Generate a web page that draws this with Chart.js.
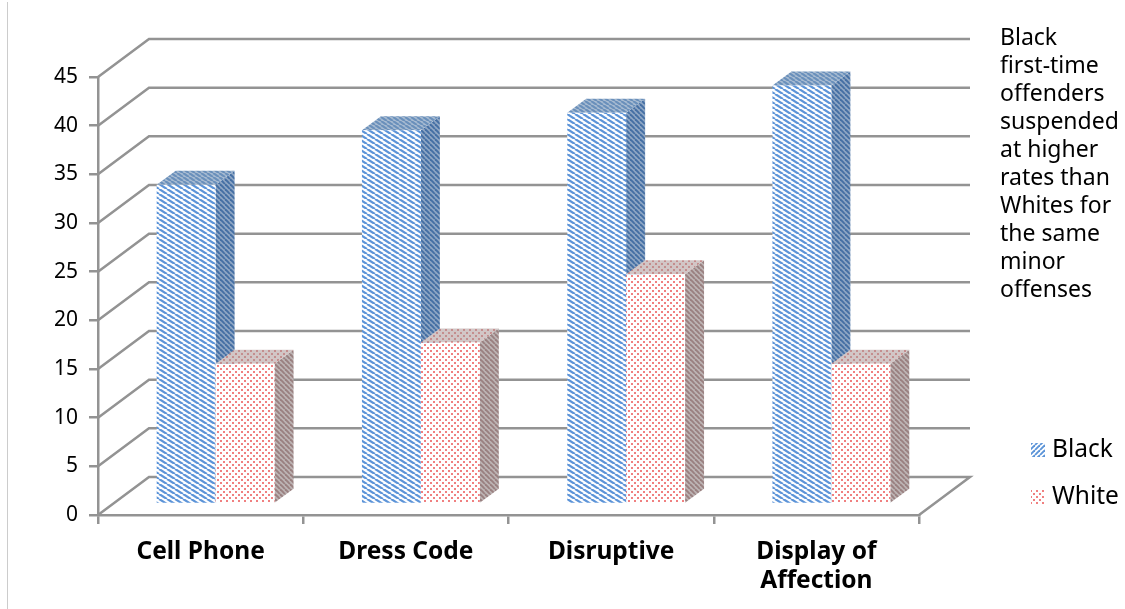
<!DOCTYPE html>
<html>
<head>
<meta charset="utf-8">
<title>First-time offenders suspended</title>
<style>
  html, body { margin: 0; padding: 0; background: #fff; overflow: hidden; }
  canvas { display: block; }
</style>
<script src="https://cdn.jsdelivr.net/npm/chart.js"></script>
</head>
<body>
<canvas id="suspensionChart" width="1125" height="609"></canvas>
<script>
const categories = ['Cell Phone', 'Dress Code', 'Disruptive', ['Display of', 'Affection']];
const blackValues = [32.8, 38.4, 40.2, 43];
const whiteValues = [14.4, 16.6, 23.6, 14.4];
const seriesNames = ['Black', 'White'];
const noteLines = ['Black', 'first-time', 'offenders', 'suspended', 'at higher', 'rates than', 'Whites for', 'the same', 'minor', 'offenses'];

const FONT = '"Noto Sans", sans-serif';
const GRID = '#939393';

// small tiled fills, the original uses Office pattern fills
function makeTile(w, h, paint) {
  const c = document.createElement('canvas');
  c.width = w;
  c.height = h;
  paint(c.getContext('2d'), w, h);
  return c.getContext('2d').createPattern(c, 'repeat');
}

function stripes(bg, fg, width, rising, w = 8, h = 5) {
  return makeTile(w, h, (g) => {
    g.fillStyle = bg;
    g.fillRect(0, 0, w, h);
    g.strokeStyle = fg;
    g.lineWidth = width;
    for (let i = -w; i <= w; i += w) {
      g.beginPath();
      if (rising) {
        g.moveTo(i, h);
        g.lineTo(i + w, 0);
      } else {
        g.moveTo(i, 0);
        g.lineTo(i + w, h);
      }
      g.stroke();
    }
  });
}

function dots(bg, fg) {
  return makeTile(6, 6, (g) => {
    g.fillStyle = bg;
    g.fillRect(0, 0, 6, 6);
    g.fillStyle = fg;
    g.fillRect(1, 1, 2, 2);
    g.fillRect(4, 4, 2, 2);
  });
}

const fills = [
  {
    front: stripes('#ffffff', '#5c94d8', 2.3, false),
    side: stripes('#8ea6c4', '#446fa4', 1.9, false, 5, 5),
    top: stripes('#a9bcd2', '#6a90bb', 2.2, false, 6, 4),
    key: stripes('#ffffff', '#5c94d8', 1.9, true, 5, 5)
  },
  {
    front: dots('#ffffff', '#f08080'),
    side: stripes('#bdb4b4', '#9a8080', 1.9, false, 5, 5),
    top: dots('#d2c6c6', '#c48e8e'),
    key: dots('#ffffff', '#f08080')
  }
];

// depth of the floor and of the bars, in px
const wallDx = 51, wallDy = 38;
const barDx = 19, barDy = 14;
const shiftX = 15, shiftY = 11;

const wallPlugin = {
  id: 'walls',
  // returning false skips the stock dataset pass: it paints the left bar last,
  // here the right bar has to sit over the left bar's side face
  beforeDatasetsDraw(chart) {
    const { ctx, scales: { x, y } } = chart;
    ctx.save();
    ctx.strokeStyle = GRID;
    ctx.lineWidth = 2.5;
    y.ticks.forEach((t) => {
      const py = y.getPixelForValue(t.value);
      ctx.beginPath();
      ctx.moveTo(x.left, py);
      ctx.lineTo(x.left + wallDx, py - wallDy);
      ctx.lineTo(x.right + wallDx, py - wallDy);
      if (t.value === 0) ctx.lineTo(x.right, py);
      ctx.stroke();
    });
    ctx.translate(shiftX, -shiftY);
    chart.data.datasets.forEach((ds, i) => {
      const fill = fills[i];
      chart.getDatasetMeta(i).data.forEach((bar) => {
        const { x: bx, y: by, base, width } = bar.getProps(['x', 'y', 'base', 'width'], true);
        const l = bx - width / 2, r = bx + width / 2;
        ctx.fillStyle = fill.side;
        ctx.beginPath();
        ctx.moveTo(r, by);
        ctx.lineTo(r + barDx, by - barDy);
        ctx.lineTo(r + barDx, base - barDy);
        ctx.lineTo(r, base);
        ctx.closePath();
        ctx.fill();
        ctx.fillStyle = fill.top;
        ctx.beginPath();
        ctx.moveTo(l, by);
        ctx.lineTo(l + barDx, by - barDy);
        ctx.lineTo(r + barDx, by - barDy);
        ctx.lineTo(r, by);
        ctx.closePath();
        ctx.fill();
        bar.draw(ctx);
      });
    });
    ctx.restore();
    return false;
  },
  afterDraw(chart) {
    const { ctx } = chart;
    ctx.save();
    // thin frame line on the left edge of the slide
    ctx.fillStyle = '#cccccc';
    ctx.fillRect(7, 2, 1, 607);

    ctx.fillStyle = '#000';
    ctx.font = '23px ' + FONT;
    ctx.textBaseline = 'middle';
    ctx.textAlign = 'left';
    noteLines.forEach((line, i) => ctx.fillText(line, 1000, 38 + i * 28.1));

    const legendY = [450, 497];
    chart.data.datasets.forEach((ds, i) => {
      ctx.fillStyle = fills[i].key;
      ctx.fillRect(1031, legendY[i] - 7, 14, 14);
      ctx.fillStyle = '#000';
      ctx.font = '24.5px ' + FONT;
      ctx.fillText(ds.label, 1052, legendY[i]);
    });
    ctx.restore();
  }
};

new Chart(document.getElementById('suspensionChart'), {
  type: 'bar',
  data: {
    labels: categories,
    datasets: [
      { label: seriesNames[0], data: blackValues, backgroundColor: fills[0].front },
      { label: seriesNames[1], data: whiteValues, backgroundColor: fills[1].front }
    ]
  },
  options: {
    responsive: false,
    animation: false,
    layout: { padding: { top: 77, right: 206, bottom: 0, left: 0 } },
    datasets: { bar: { barPercentage: 1, categoryPercentage: 118 / 205.5 } },
    plugins: { legend: { display: false }, title: { display: false }, tooltip: { enabled: false } },
    scales: {
      x: {
        afterFit(s) { s.height = 94; },
        border: { color: GRID, width: 2.5 },
        grid: { offset: true, drawOnChartArea: false, drawTicks: true, tickLength: 9, color: GRID, lineWidth: 2.5 },
        ticks: {
          color: '#000',
          padding: 13,
          maxRotation: 0,
          autoSkip: false,
          font: { family: FONT, size: 24.5, weight: 'bold', lineHeight: 1.2 }
        }
      },
      y: {
        min: 0,
        max: 45,
        afterFit(s) { s.width = 98; },
        border: { color: GRID, width: 2.5 },
        grid: { drawOnChartArea: false, tickLength: 9, color: GRID, lineWidth: 2.5 },
        ticks: { stepSize: 5, color: '#000', padding: 11, font: { family: FONT, size: 21 } }
      }
    }
  },
  plugins: [wallPlugin]
});
</script>
</body>
</html>
